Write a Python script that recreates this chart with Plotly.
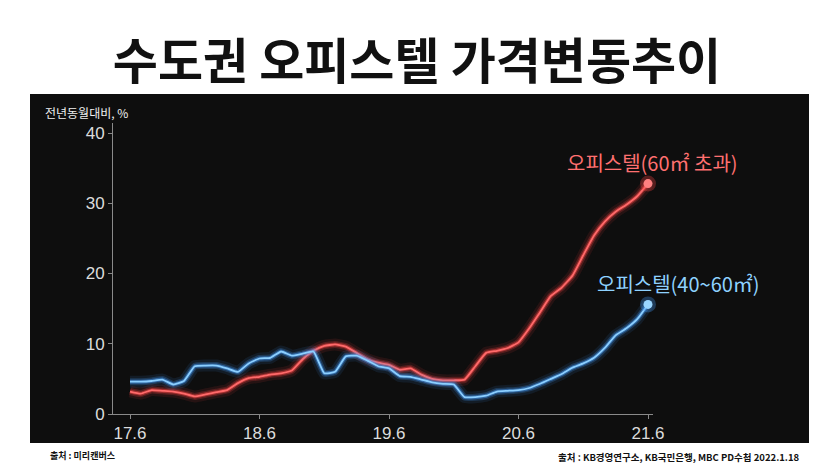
import plotly.graph_objects as go

# ---- data (monthly, 2017.6 .. 2021.6) ----
months = list(range(49))  # month index from 2017.6
tick_vals = [0, 12, 24, 36, 48]
tick_text = ["17.6", "18.6", "19.6", "20.6", "21.6"]
y_ticks = [0, 10, 20, 30, 40]

small = [4.6, 4.6, 4.7, 4.9, 4.2, 4.7, 6.8, 6.9, 6.9, 6.5, 6.0, 7.2, 7.9, 8.0, 8.9, 8.3,
         8.6, 8.9, 5.8, 6.0, 8.2, 8.3, 7.6, 6.8, 6.5, 5.4, 5.3, 4.9, 4.5, 4.3, 4.2, 2.4,
         2.4, 2.6, 3.2, 3.3, 3.4, 3.7, 4.3, 5.0, 5.7, 6.6, 7.2, 8.0, 9.4, 11.2, 12.2, 13.5, 15.6]
large = [3.2, 2.9, 3.4, 3.3, 3.2, 2.9, 2.5, 2.8, 3.1, 3.4, 4.4, 5.1, 5.3, 5.6, 5.8, 6.2,
         7.8, 9.0, 9.7, 9.9, 9.6, 8.7, 7.8, 7.3, 7.0, 6.3, 6.5, 5.6, 5.0, 4.8, 4.8, 4.9,
         6.8, 8.7, 9.0, 9.4, 10.2, 12.2, 14.5, 16.8, 18.0, 19.7, 22.6, 25.4, 27.4, 28.8, 29.8, 31.0, 32.8]

name_large = "오피스텔(60㎡ 초과)"
name_small = "오피스텔(40~60㎡)"

title = "수도권 오피스텔 가격변동추이"
ytitle = "전년동월대비, %"
src_left = "출처 : 미리캔버스"
src_right = "출처 : KB경영연구소, KB국민은행, MBC PD수첩 2022.1.18"

# ---- figure ----
W, H = 840, 473
L, R, T, B = 113, 187, 123, 59
pw, ph = W - L - R, H - T - B

def px_to_paper_x(px):
    return (px - L) / pw

def px_to_paper_y(py):
    return (H - B - py) / ph

fig = go.Figure()

series = [
    (large, "255,70,70", "#ff6a6a", "#ff8080"),
    (small, "70,160,255", "#8ccfff", "#9ad6ff"),
]
for vals, rgb, core, dot in series:
    for w, a in [(12, 0.10), (7, 0.22), (4, 0.45)]:
        fig.add_trace(go.Scatter(x=months, y=vals, mode="lines",
                                 line=dict(color=f"rgba({rgb},{a})", width=w, shape="spline", smoothing=0.4),
                                 hoverinfo="skip", showlegend=False, cliponaxis=False))
    fig.add_trace(go.Scatter(x=months, y=vals, mode="lines",
                             line=dict(color=core, width=1.8, shape="spline", smoothing=0.4),
                             showlegend=False, cliponaxis=False))
    fig.add_trace(go.Scatter(x=[months[-1]], y=[vals[-1]], mode="markers",
                             marker=dict(color=f"rgba({rgb},0.3)", size=16),
                             hoverinfo="skip", showlegend=False, cliponaxis=False))
    fig.add_trace(go.Scatter(x=[months[-1]], y=[vals[-1]], mode="markers",
                             marker=dict(color=dot, size=9),
                             showlegend=False, cliponaxis=False))

# dark backdrop
fig.add_shape(type="rect", xref="paper", yref="paper",
              x0=px_to_paper_x(30), x1=px_to_paper_x(809),
              y0=px_to_paper_y(443), y1=px_to_paper_y(94),
              fillcolor="#0e0e0e", line=dict(width=0), layer="below")

# x range from pixel mapping: 17.6 at px130, 21.6 at px648
x_per_px = 48 / (648 - 130)
x0 = 0 - (130 - L) * x_per_px
x1 = x0 + pw * x_per_px
y_per_px = 40 / (414 - 133)
y1 = ph * y_per_px

fig.update_xaxes(range=[x0, x1], tickvals=tick_vals, ticktext=tick_text,
                 showgrid=False, zeroline=False, showline=True, linecolor="#8a8a8a", linewidth=1,
                 ticks="outside", ticklen=4, tickcolor="#8a8a8a",
                 tickfont=dict(family="Liberation Sans", size=17, color="#dcdcdc"))
fig.update_yaxes(range=[0, y1], tickvals=y_ticks,
                 showgrid=False, zeroline=False, showline=True, linecolor="#8a8a8a", linewidth=1,
                 ticks="outside", ticklen=4, tickcolor="#8a8a8a",
                 tickfont=dict(family="Liberation Sans", size=17, color="#dcdcdc"))

ann = []
ann.append(dict(x=px_to_paper_x(652), y=px_to_paper_y(162), xref="paper", yref="paper",
                xanchor="center", yanchor="middle", text=name_large, showarrow=False,
                font=dict(family="Noto Sans CJK KR", size=20, color="#ff7070")))
ann.append(dict(x=px_to_paper_x(678), y=px_to_paper_y(283), xref="paper", yref="paper",
                xanchor="center", yanchor="middle", text=name_small, showarrow=False,
                font=dict(family="Noto Sans CJK KR", size=20, color="#8ed2ff")))
ann.append(dict(x=px_to_paper_x(43), y=px_to_paper_y(113), xref="paper", yref="paper",
                xanchor="left", yanchor="middle", text=ytitle, showarrow=False,
                font=dict(family="Noto Sans CJK KR", size=12, color="#f0f0f0")))
ann.append(dict(x=px_to_paper_x(48), y=px_to_paper_y(455), xref="paper", yref="paper",
                xanchor="left", yanchor="middle", text=src_left, showarrow=False,
                font=dict(family="Noto Sans CJK KR", size=9, color="#111111", weight=700)))
ann.append(dict(x=px_to_paper_x(802), y=px_to_paper_y(457), xref="paper", yref="paper",
                xanchor="right", yanchor="middle", text=src_right, showarrow=False,
                font=dict(family="Noto Sans CJK KR", size=9.5, color="#111111", weight=700)))

fig.update_layout(
    width=W, height=H,
    margin=dict(l=L, r=R, t=T, b=B, pad=0),
    paper_bgcolor="white", plot_bgcolor="rgba(0,0,0,0)",
    title=dict(text=title, x=417 / W, xref="container", xanchor="center",
               y=1 - 62 / H, yref="container", yanchor="middle",
               font=dict(family="Noto Sans CJK KR", size=49, color="#111111", weight=700)),
    annotations=ann,
    showlegend=False,
)

fig.write_html("out.html", config={"displayModeBar": False},
               post_script="document.body.style.margin='0';")
